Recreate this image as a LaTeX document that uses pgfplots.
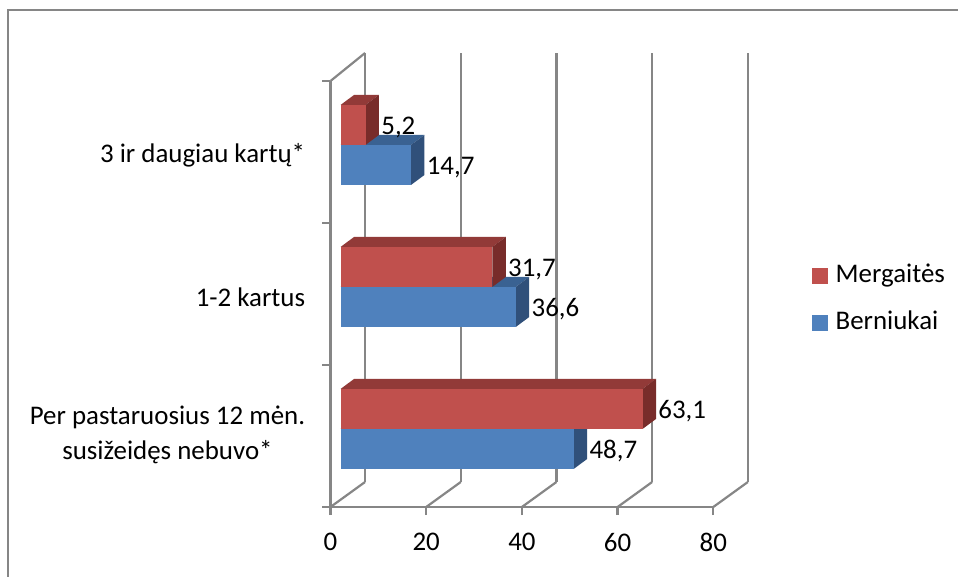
\documentclass[border=0pt]{standalone}
\usepackage{pgfplots}
\pgfplotsset{compat=1.18}
\usepackage{fontspec}
\setmainfont{Carlito}
\definecolor{gcol}{RGB}{134,134,134}
\definecolor{rF}{RGB}{192,80,77}
\definecolor{rT}{RGB}{146,58,56}
\definecolor{rS}{RGB}{120,44,42}
\definecolor{bF}{RGB}{79,129,189}
\definecolor{bT}{RGB}{58,98,146}
\definecolor{bS}{RGB}{48,80,122}
\def\bx{2.13}\def\bh{0.282}\def\ddx{2.8}\def\ddy{0.07}
\newcommand\cube[5]{%
 \pgfmathsetmacro\xl{\bx}%
 \pgfmathsetmacro\xr{\bx+#1}%
 \pgfmathsetmacro\yb{#2}%
 \pgfmathsetmacro\yt{#2+\bh}%
 \pgfmathsetmacro\xld{\xl+\ddx}%
 \pgfmathsetmacro\xrd{\xr+\ddx}%
 \pgfmathsetmacro\ybd{\yb+\ddy}%
 \pgfmathsetmacro\ytd{\yt+\ddy}%
 \pgfmathsetmacro\ym{#2+\bh/2}%
 \edef\temp{%
  \noexpand\addplot[fill=#4,draw=none,forget plot] coordinates {(\xl,\yt) (\xr,\yt) (\xrd,\ytd) (\xld,\ytd)} -- cycle;
  \noexpand\addplot[fill=#5,draw=none,forget plot] coordinates {(\xr,\yb) (\xrd,\ybd) (\xrd,\ytd) (\xr,\yt)} -- cycle;
  \noexpand\addplot[fill=#3,draw=none,forget plot] coordinates {(\xl,\yb) (\xr,\yb) (\xr,\yt) (\xl,\yt)} -- cycle;
  \noexpand\node[anchor=west,inner sep=1bp,yshift=-1.2bp] at (axis cs:\xrd,\ym) {\noexpand\pgfmathprintnumber[use comma,fixed,precision=1,fixed zerofill,assume math mode=true]{#1}};
 }\temp}
\begin{document}
\begin{tikzpicture}
\begin{axis}[
  at={(0,0)}, anchor=south west,
  scale only axis, width=191.4bp, height=213bp,
  xmin=0, xmax=80, ymin=0, ymax=3,
  clip=false,
  font=\fontsize{13.5}{17.5}\selectfont,
  axis lines*=left,
  axis line style={draw=gcol, line width=1.1bp},
  tick style={draw=gcol, line width=1.1bp},
  tick align=outside, major tick length=4bp,
  xtick={0,20,40,60,80},
  xticklabel style={yshift=-5.5bp},
  ytick={0,1,2,3}, yticklabels={},
  extra y ticks={0.51,1.48,2.48},
  extra y tick labels={{Per pastaruosius 12 mėn.\\susižeidęs nebuvo*},{1-2 kartus},{3 ir daugiau kartų*}},
  extra y tick style={major tick length=0pt, yticklabel style={align=center, anchor=east, inner sep=0pt, xshift=-12.5bp}},
  /pgf/number format/assume math mode=true,
  legend style={at={(1.2575,0.575)}, anchor=north west, draw=none, fill=none, inner sep=0pt, outer sep=0pt, row sep=9.5bp, column sep=3bp, nodes={inner sep=1bp, text height=9bp, text depth=3bp}},
  legend cell align=left,
]
\addlegendimage{legend image code/.code={\fill[rF] (0bp,-3.75bp) rectangle (7.5bp,3.75bp);}}
\addlegendentry{Mergaitės}
\addlegendimage{legend image code/.code={\fill[bF] (0bp,-3.75bp) rectangle (7.5bp,3.75bp);}}
\addlegendentry{Berniukai}
% back wall and floor
\addplot[gcol, line width=1.1bp, forget plot] coordinates {(7.22,0.176) (7.22,3.197)};
\addplot[gcol, line width=1.1bp, forget plot] coordinates {(27.22,0.176) (27.22,3.197)};
\addplot[gcol, line width=1.1bp, forget plot] coordinates {(47.22,0.176) (47.22,3.197)};
\addplot[gcol, line width=1.1bp, forget plot] coordinates {(67.22,0.176) (67.22,3.197)};
\addplot[gcol, line width=1.1bp, forget plot] coordinates {(87.22,0.176) (87.22,3.197)};
\addplot[gcol, line width=1.1bp, forget plot] coordinates {(0,3) (7.22,3.197)};
\addplot[gcol, line width=1.1bp, forget plot] coordinates {(0,0) (7.22,0.176)};
\addplot[gcol, line width=1.1bp, forget plot] coordinates {(20,0) (27.22,0.176)};
\addplot[gcol, line width=1.1bp, forget plot] coordinates {(40,0) (47.22,0.176)};
\addplot[gcol, line width=1.1bp, forget plot] coordinates {(60,0) (67.22,0.176)};
\addplot[gcol, line width=1.1bp, forget plot] coordinates {(80,0) (87.22,0.176)};
% bars: Berniukai (blue) then Mergaites (red)
\cube{48.7}{0.268}{bF}{bT}{bS}
\cube{63.1}{0.550}{rF}{rT}{rS}
\cube{36.6}{1.268}{bF}{bT}{bS}
\cube{31.7}{1.550}{rF}{rT}{rS}
\cube{14.7}{2.268}{bF}{bT}{bS}
\cube{5.2}{2.550}{rF}{rT}{rS}
\end{axis}
\draw[gcol, line width=1.1bp] (-161.25bp,-40bp) -- (-161.25bp,248.5bp) -- (320bp,248.5bp);
\pgfresetboundingbox
\useasboundingbox (-165.25bp,-35bp) rectangle (313.75bp,253.5bp);
\end{tikzpicture}
\end{document}
